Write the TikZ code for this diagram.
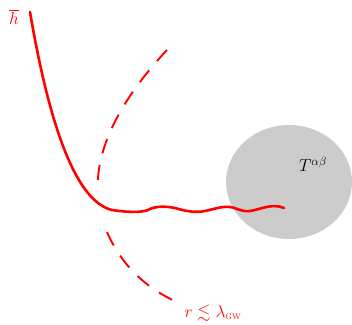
\documentclass[tikz,border=0pt]{standalone}
\usepackage{amsmath,amssymb}
\definecolor{blobgray}{RGB}{204,204,204}
\tikzset{
  lbl/.style={red, font=\fontsize{17}{20}\selectfont},
  solidred/.style={red, line width=2.6pt, line cap=round, line join=round},
  dashedred/.style={red, line width=1.9pt, dash pattern=on 15pt off 12pt}
}
\begin{document}
\begin{tikzpicture}[x=1pt,y=-1pt]
\useasboundingbox (0,0) rectangle (352,324);
% source blob
\fill[blobgray] (289,182) ellipse [x radius=63, y radius=57];
\node[font=\fontsize{17}{20}\selectfont] (T) at (313,164) {$T^{\alpha\beta}$};
\node[lbl] (h) at (14,17) {$\overline{h}$};
\node[lbl] (r) at (213,313) {$r\lesssim\lambda_{\mathrm{\scriptscriptstyle GW}}$};
% dashed near-zone boundary
\draw[dashedred] (167,50) .. controls (120,100) and (95,150) .. (98,192);
\draw[dashedred] (107,232) .. controls (120,262) and (143,287) .. (177,302);
% solid field line with wiggle
\draw[solidred] (30,12) .. controls (45,100) and (70,200) .. (112,210)
  .. controls (125,212) and (140,213) .. (148,210)
  .. controls (155,206) and (165,206) .. (175,208)
  .. controls (185,211) and (195,213) .. (205,211)
  .. controls (215,209) and (222,206) .. (230,207)
  .. controls (238,208) and (240,212) .. (250,211)
  .. controls (262,209) and (272,203) .. (284,208);
\end{tikzpicture}
\end{document}
